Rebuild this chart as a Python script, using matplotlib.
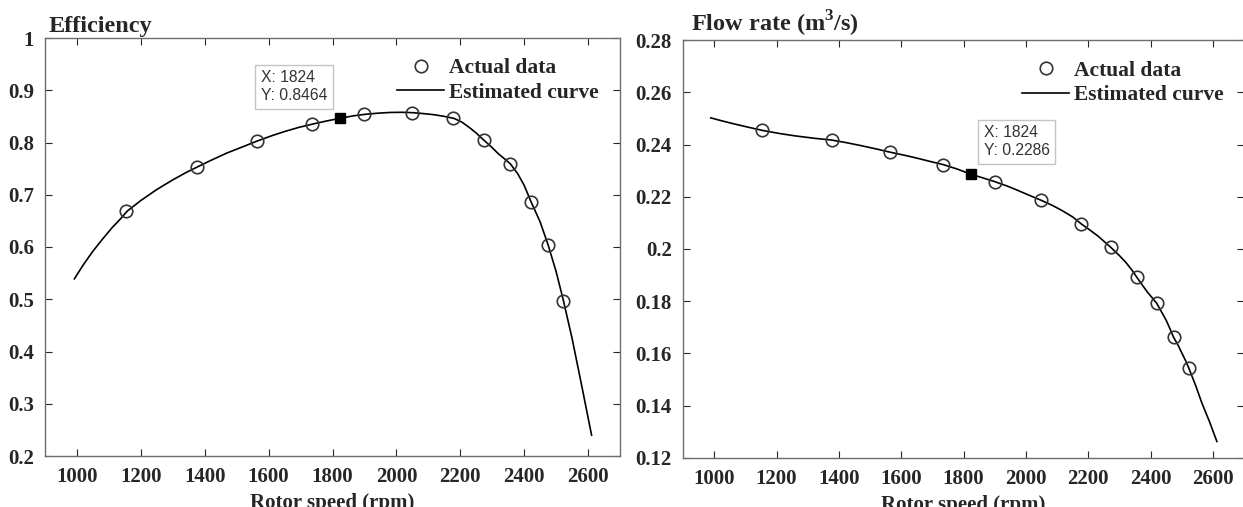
import matplotlib
matplotlib.use("Agg")
import matplotlib.pyplot as plt
from matplotlib.ticker import FuncFormatter

plt.rcParams['font.family'] = ['Liberation Serif', 'DejaVu Serif']
plt.rcParams['font.weight'] = 'bold'
plt.rcParams['mathtext.fontset'] = 'custom'
plt.rcParams['mathtext.rm'] = 'Liberation Serif:bold'
plt.rcParams['mathtext.bf'] = 'Liberation Serif:bold'

# datos medidos (rpm)
rpm_datos = [1155, 1377, 1563, 1735, 1900, 2050, 2178, 2273, 2356, 2420, 2474, 2523]
eficiencia = [0.669, 0.7535, 0.803, 0.835, 0.854, 0.857, 0.846, 0.804, 0.759, 0.686, 0.604, 0.497]
caudal = [0.2454, 0.2417, 0.2371, 0.2323, 0.2258, 0.2186, 0.2096, 0.2006, 0.1892, 0.1792, 0.1662, 0.1544]

# curva estimada
rpm_curva_ef = [992, 1020, 1050, 1080, 1110, 1135, 1158, 1200, 1250, 1300, 1340, 1378, 1420,
                1470, 1520, 1565, 1610, 1650, 1695, 1736, 1780, 1824, 1865, 1903, 1940, 1980,
                2020, 2053, 2090, 2120, 2150, 2181, 2205, 2230, 2250, 2273, 2300, 2320, 2340,
                2357, 2380, 2400, 2422, 2450, 2475, 2500, 2523, 2550, 2580, 2611]
curva_ef = [0.539, 0.566, 0.592, 0.615, 0.637, 0.653, 0.669, 0.689, 0.710, 0.7285, 0.742,
            0.7535, 0.766, 0.780, 0.792, 0.803, 0.813, 0.821, 0.829, 0.835, 0.841, 0.8464,
            0.851, 0.854, 0.856, 0.8575, 0.8578, 0.857, 0.855, 0.853, 0.850, 0.846, 0.839,
            0.828, 0.818, 0.805, 0.790, 0.778, 0.768, 0.759, 0.740, 0.718, 0.686, 0.648,
            0.604, 0.553, 0.497, 0.425, 0.335, 0.240]

rpm_curva_q = [989, 1020, 1060, 1110, 1155, 1210, 1260, 1320, 1377, 1420, 1470, 1520, 1563,
               1610, 1650, 1690, 1735, 1780, 1824, 1860, 1900, 1940, 1975, 2010, 2050, 2085,
               2115, 2150, 2178, 2205, 2230, 2250, 2273, 2300, 2320, 2340, 2356, 2375, 2390,
               2405, 2420, 2435, 2450, 2462, 2474, 2488, 2500, 2512, 2523, 2545, 2565, 2590, 2613]
curva_q = [0.2502, 0.2492, 0.2480, 0.2466, 0.2454, 0.2442, 0.2433, 0.2424, 0.2417, 0.2408,
           0.2396, 0.2383, 0.2371, 0.2359, 0.2348, 0.2336, 0.2323, 0.2306, 0.2286, 0.2273,
           0.2258, 0.2241, 0.2224, 0.2206, 0.2186, 0.2167, 0.2148, 0.2123, 0.2096, 0.2073,
           0.2051, 0.2030, 0.2006, 0.1975, 0.1950, 0.1920, 0.1892, 0.1860, 0.1835, 0.1814,
           0.1792, 0.1760, 0.1728, 0.1696, 0.1662, 0.1633, 0.1603, 0.1574, 0.1544, 0.1477,
           0.1410, 0.1337, 0.1263]

punto_x = 1824
punto_ef = 0.8464
punto_q = 0.2286

x_ticks = [1000, 1200, 1400, 1600, 1800, 2000, 2200, 2400, 2600]
ef_ticks = [0.2, 0.3, 0.4, 0.5, 0.6, 0.7, 0.8, 0.9, 1]
q_ticks = [0.12, 0.14, 0.16, 0.18, 0.2, 0.22, 0.24, 0.26, 0.28]

gris = '#262626'
W, H = 1243, 507
fig = plt.figure(figsize=(W / 100, H / 100), dpi=100)
ax1 = fig.add_axes([45 / W, 1 - 456 / H, 575 / W, 418 / H])
ax2 = fig.add_axes([683 / W, 1 - 458 / H, 561 / W, 418 / H])


def estilo(ax, yticks, ylim):
    ax.set_xlim(900, 2700)
    ax.set_ylim(*ylim)
    ax.set_xticks(x_ticks)
    ax.set_yticks(yticks)
    ax.yaxis.set_major_formatter(FuncFormatter(lambda v, p: f"{v:g}"))
    ax.tick_params(direction='in', top=True, right=True, length=5, width=0.8,
                   color=gris, labelcolor=gris, labelsize=15, pad=8)
    for s in ax.spines.values():
        s.set_color('#6e6e6e')
        s.set_linewidth(1.0)
    ax.set_xlabel('Rotor speed (rpm)', fontsize=15, color=gris, fontweight='bold', va='top')
    ax.xaxis.set_label_coords(0.5, -0.088)


def datatip(ax, x, y, texto, dx, dy, ha):
    ax.plot([x], [y], 's', color='black', markersize=7, zorder=5)
    ax.annotate(texto, (x, y), xytext=(dx, dy), textcoords='offset pixels',
                ha=ha, va='bottom', multialignment='left', fontsize=11.3,
                family='Liberation Sans', fontweight='normal', color='#333333',
                linespacing=1.25,
                bbox=dict(boxstyle='square,pad=0.35', fc='white', ec='#c4c4c4', lw=1.0),
                zorder=6)


# Panel izquierdo: eficiencia
ax1.plot(rpm_curva_ef, curva_ef, color='black', lw=1.2, label='Estimated curve', zorder=3)
ax1.plot(rpm_datos, eficiencia, 'o', mfc='none', mec='#333333', mew=1.2, ms=9,
         label='Actual data', zorder=4)
estilo(ax1, ef_ticks, (0.2, 1.0))
datatip(ax1, punto_x, punto_ef, 'X: 1824\nY: 0.8464', -13, 15, 'right')
ax1.text(0.007, 1 + 6 / 418, 'Efficiency', transform=ax1.transAxes, fontsize=17.5,
         fontweight='bold', color=gris, va='baseline', ha='left')

# Panel derecho: caudal
ax2.plot(rpm_curva_q, curva_q, color='black', lw=1.2, label='Estimated curve', zorder=3)
ax2.plot(rpm_datos, caudal, 'o', mfc='none', mec='#333333', mew=1.2, ms=9,
         label='Actual data', zorder=4)
estilo(ax2, q_ticks, (0.12, 0.28))
datatip(ax2, punto_x, punto_q, 'X: 1824\nY: 0.2286', 13, 16, 'left')
ax2.text(0.014, 1 + 8 / 418, r'Flow rate (m$^{\mathbf{3}}$/s)', transform=ax2.transAxes,
         fontsize=17.5, fontweight='bold', color=gris, va='baseline', ha='left')

for ax, pos in ((ax1, (0.612, 0.952)), (ax2, (0.604, 0.95))):
    h, l = ax.get_legend_handles_labels()
    leg = ax.legend(h[::-1], l[::-1], loc='upper left', bbox_to_anchor=pos, frameon=False,
                    fontsize=15.5, handlelength=2.2, handletextpad=0.2, labelspacing=0.2,
                    borderpad=0, borderaxespad=0)
    for t in leg.get_texts():
        t.set_color(gris)

fig.savefig('out.png', dpi=100)
